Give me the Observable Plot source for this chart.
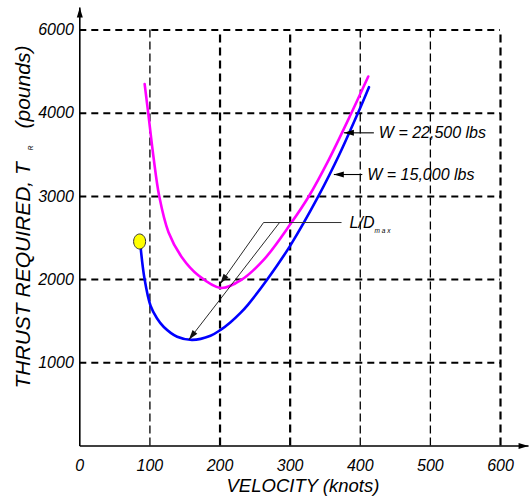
<!DOCTYPE html>
<html>
<head>
<meta charset="utf-8">
<script src="https://cdn.jsdelivr.net/npm/d3@7"></script>
<script src="https://cdn.jsdelivr.net/npm/@observablehq/plot@0.6"></script>
<style>
  html, body { margin: 0; padding: 0; background: #fff; }
</style>
</head>
<body>
<div id="chart"></div>
<script>
// ---- data ----
const xTicks = [0, 100, 200, 300, 400, 500, 600];
const yTickValues = [1000, 2000, 3000, 4000, 5000];
const yTickLabels = ["1000", "2000", "3000", "4000", "6000"];
const xGridThick = [200, 300, 600];
const xGridThin = [100, 400, 500];
const yGrid = [1000, 2000, 3000, 4000, 5000];

// W = 15,000 lbs (blue)
const blueV = [86.6, 92.3, 100.9, 110, 119.8, 138.9, 160.3, 186.4, 200.7, 215, 229.2, 240, 267.3, 300.6, 340.1, 370, 396.6, 412.4];
const blueT = [2398, 2010, 1685, 1535, 1430, 1313, 1275, 1325, 1395, 1488, 1600, 1700, 2001, 2415, 2999, 3500, 4000, 4313];
// W = 22,500 lbs (magenta)
const magV = [92.5, 97.6, 105, 113.3, 126.5, 145.5, 169.3, 200.7, 229.2, 262.5, 300.6, 326.7, 355, 387.2, 411.4];
const magT = [4350, 4000, 3480, 3002, 2570, 2269, 2049, 1900, 1990, 2240, 2670, 3002, 3440, 4000, 4441];

// stall point
const stallV = [85.3];
const stallT = [2458];

// weight labels and their arrows
const weightLabels = ["W = 22,500 lbs", "W = 15,000 lbs"];
const weightLabelV = [426.5, 410];
const weightT = [3764, 3263];
const weightArrowFromV = [419.4, 402.9];
const weightArrowToV = [376.6, 362.3];

// L/D max leaders
const ldLineV = [262.1, 373.3];
const ldT = 2686;
const ldArrowFromV = [262.1, 284.9];
const ldArrowToV = [200.3, 155.5];
const ldArrowToT = [1950, 1276];

const blue = blueV.map((v, i) => ({v, t: blueT[i]}));
const mag = magV.map((v, i) => ({v, t: magT[i]}));
const weightArrows = weightArrowFromV.map((v, i) => ({x1: v, x2: weightArrowToV[i], y: weightT[i]}));
const ldArrows = ldArrowFromV.map((v, i) => ({x1: v, y1: ldT, x2: ldArrowToV[i], y2: ldArrowToT[i]}));

const ellipse = {
  draw(ctx) {
    const rx = 6, ry = 7.5, k = 0.5523;
    ctx.moveTo(rx, 0);
    ctx.bezierCurveTo(rx, ry * k, rx * k, ry, 0, ry);
    ctx.bezierCurveTo(-rx * k, ry, -rx, ry * k, -rx, 0);
    ctx.bezierCurveTo(-rx, -ry * k, -rx * k, -ry, 0, -ry);
    ctx.bezierCurveTo(rx * k, -ry, rx, -ry * k, rx, 0);
    ctx.closePath();
  }
};

const font = "'Liberation Sans', Arial, Helvetica, sans-serif";

const chart = Plot.plot({
  width: 532,
  height: 499,
  marginLeft: 79.3,
  marginRight: 32,
  marginTop: 29.5,
  marginBottom: 53.5,
  style: {fontFamily: font, fontSize: "16px", fontStyle: "italic", background: "#fff", color: "#000", overflow: "visible"},
  x: {domain: [0, 600], ticks: xTicks, tickSize: 0, tickPadding: 14, label: null, tickFormat: d => String(d)},
  y: {domain: [0, 5000], ticks: yTickValues, tickSize: 0, tickPadding: 6, label: null,
      tickFormat: d => yTickLabels[yTickValues.indexOf(d)]},
  marks: [
    // grid
    Plot.ruleY(yGrid, {x1: 0, x2: 600, stroke: "#000", strokeWidth: 2, strokeDasharray: "7,5"}),
    Plot.ruleX(xGridThick, {y1: 0, y2: 5000, stroke: "#000", strokeWidth: 2.2, strokeDasharray: "8,5"}),
    Plot.ruleX(xGridThin, {y1: 0, y2: 5000, stroke: "#000", strokeWidth: 1.3, strokeDasharray: "8,4"}),
    // axes with arrows
    Plot.link([{x1: 0, y1: 0, x2: 0, y2: 5270}], {x1: "x1", y1: "y1", x2: "x2", y2: "y2", stroke: "#000", strokeWidth: 1.6, markerEnd: "arrow"}),
    Plot.link([{x1: 0, y1: 0, x2: 640, y2: 0}], {x1: "x1", y1: "y1", x2: "x2", y2: "y2", stroke: "#000", strokeWidth: 1.6, markerEnd: "arrow"}),
    // curves
    Plot.line(mag, {x: "v", y: "t", stroke: "#ff00ff", strokeWidth: 2.6, curve: "catmull-rom"}),
    Plot.line(blue, {x: "v", y: "t", stroke: "#0000ff", strokeWidth: 2.6, curve: "catmull-rom"}),
    // stall dot
    Plot.dot(stallV.map((v, i) => ({v, t: stallT[i]})), {x: "v", y: "t", symbol: ellipse, fill: "#ffff00", stroke: "#333", strokeWidth: 1}),
    // weight labels and arrows
    Plot.link(weightArrows, {x1: "x1", x2: "x2", y1: "y", y2: "y", stroke: "#000", strokeWidth: 1.1, markerEnd: "arrow"}),
    Plot.text(weightLabels.map((s, i) => ({s, v: weightLabelV[i], t: weightT[i]})), {x: "v", y: "t", text: "s", textAnchor: "start", lineAnchor: "middle", fontSize: 16, fontStyle: "italic", fill: "#000"}),
    // L/D max
    Plot.link([{x1: ldLineV[0], x2: ldLineV[1], y: ldT}], {x1: "x1", x2: "x2", y1: "y", y2: "y", stroke: "#333", strokeWidth: 1}),
    Plot.link(ldArrows, {x1: "x1", y1: "y1", x2: "x2", y2: "y2", stroke: "#111", strokeWidth: 0.9, markerEnd: "arrow"}),
    Plot.text(["L/D"], {x: 384.7, y: ldT, textAnchor: "start", lineAnchor: "middle", fontSize: 16, fontStyle: "italic", fill: "#000"}),
    Plot.text(["m a x"], {x: 420.4, y: 2582, textAnchor: "start", lineAnchor: "middle", fontSize: 6.5, fontStyle: "italic", fill: "#000"}),
    // axis titles
    Plot.text(["VELOCITY (knots)"], {frameAnchor: "bottom", dx: 12.8, dy: 40.5, lineAnchor: "middle", fontSize: 18.5, fontStyle: "italic", fill: "#000"}),
    Plot.text(["THRUST REQUIRED, T"], {frameAnchor: "bottom-left", dx: -56.3, dy: -57.5, rotate: -90, textAnchor: "start", lineAnchor: "middle", fontSize: 21, fontStyle: "italic", fill: "#000"}),
    Plot.text(["R"], {frameAnchor: "bottom-left", dx: -48.5, dy: -298, rotate: -90, textAnchor: "middle", lineAnchor: "middle", fontSize: 6.5, fontStyle: "italic", fill: "#000"}),
    Plot.text(["(pounds)"], {frameAnchor: "bottom-left", dx: -56.3, dy: -317.5, rotate: -90, textAnchor: "start", lineAnchor: "middle", fontSize: 21, fontStyle: "italic", fill: "#000"})
  ]
});

// filled arrowheads
chart.querySelectorAll("marker").forEach(m => {
  const color = m.getAttribute("stroke") || "#000";
  m.setAttribute("markerUnits", "userSpaceOnUse");
  m.setAttribute("viewBox", "-11 -5 12 10");
  m.setAttribute("markerWidth", 12);
  m.setAttribute("markerHeight", 10);
  m.setAttribute("fill", color);
  m.setAttribute("stroke", "none");
  const p = m.querySelector("path");
  if (p) p.setAttribute("d", "M-10,-3L0,0L-10,3Z");
});

document.getElementById("chart").appendChild(chart);
</script>
</body>
</html>
